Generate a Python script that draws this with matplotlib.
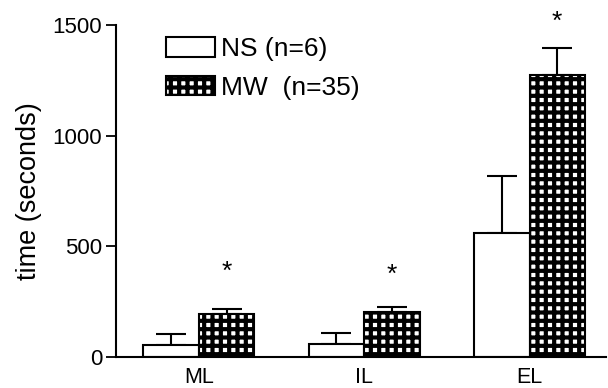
import numpy as np
import matplotlib
matplotlib.use("Agg")
import matplotlib.pyplot as plt

# data
groups = ["ML", "IL", "EL"]
ns_mean = [55, 58, 560]
ns_err = [50, 50, 258]
mw_mean = [195, 203, 1272]
mw_err = [22, 23, 122]
star_y = [383, 369, 1512]
series_labels = ["NS (n=6)", "MW  (n=35)"]

plt.rcParams["font.family"] = ["Liberation Sans", "DejaVu Sans"]
plt.rcParams["hatch.linewidth"] = 3.0
plt.rcParams["hatch.color"] = "black"

fig = plt.figure(figsize=(6.08, 3.88), dpi=100)
ax = fig.add_axes([0.191, 0.080, 0.805, 0.856])

x = np.arange(len(groups))
w = 0.335

ax.bar(x - w / 2, ns_mean, w, color="white", edgecolor="black", lw=1.5,
       label=series_labels[0], zorder=2)
ax.bar(x + w / 2, mw_mean, w, color="white", edgecolor="black", lw=1.5,
       hatch="++", label=series_labels[1], zorder=2)

# one-sided (upper) error bars
ax.errorbar(x - w / 2, ns_mean, yerr=[np.zeros(3), ns_err], fmt="none",
            ecolor="black", elinewidth=1.5, capsize=10.5, capthick=1.5, zorder=1)
ax.errorbar(x + w / 2, mw_mean, yerr=[np.zeros(3), mw_err], fmt="none",
            ecolor="black", elinewidth=1.5, capsize=10.5, capthick=1.5, zorder=1)

for xi, sy in zip(x + w / 2, star_y):
    ax.text(xi, sy, "*", ha="center", va="center", fontsize=19)

ax.set_xlim(-0.5, 2.46)
ax.set_ylim(0, 1500)
ax.set_yticks([0, 500, 1000, 1500])
ax.set_xticks(x)
ax.set_xticklabels(groups)
ax.tick_params(axis="x", length=0, labelsize=15.5, pad=7)
ax.tick_params(axis="y", length=7, width=1.3, labelsize=16, pad=3)
ax.set_ylabel("time (seconds)", fontsize=19.5, labelpad=8)

for s in ["top", "right"]:
    ax.spines[s].set_visible(False)
ax.spines["left"].set_linewidth(1.5)
ax.spines["bottom"].set_linewidth(1.5)

ax.legend(loc="upper left", bbox_to_anchor=(0.08, 0.995), frameon=False,
          fontsize=19, handlelength=1.85, handleheight=0.75,
          handletextpad=0.25, labelspacing=0.55, borderaxespad=0)

fig.savefig("out.png", dpi=100)
